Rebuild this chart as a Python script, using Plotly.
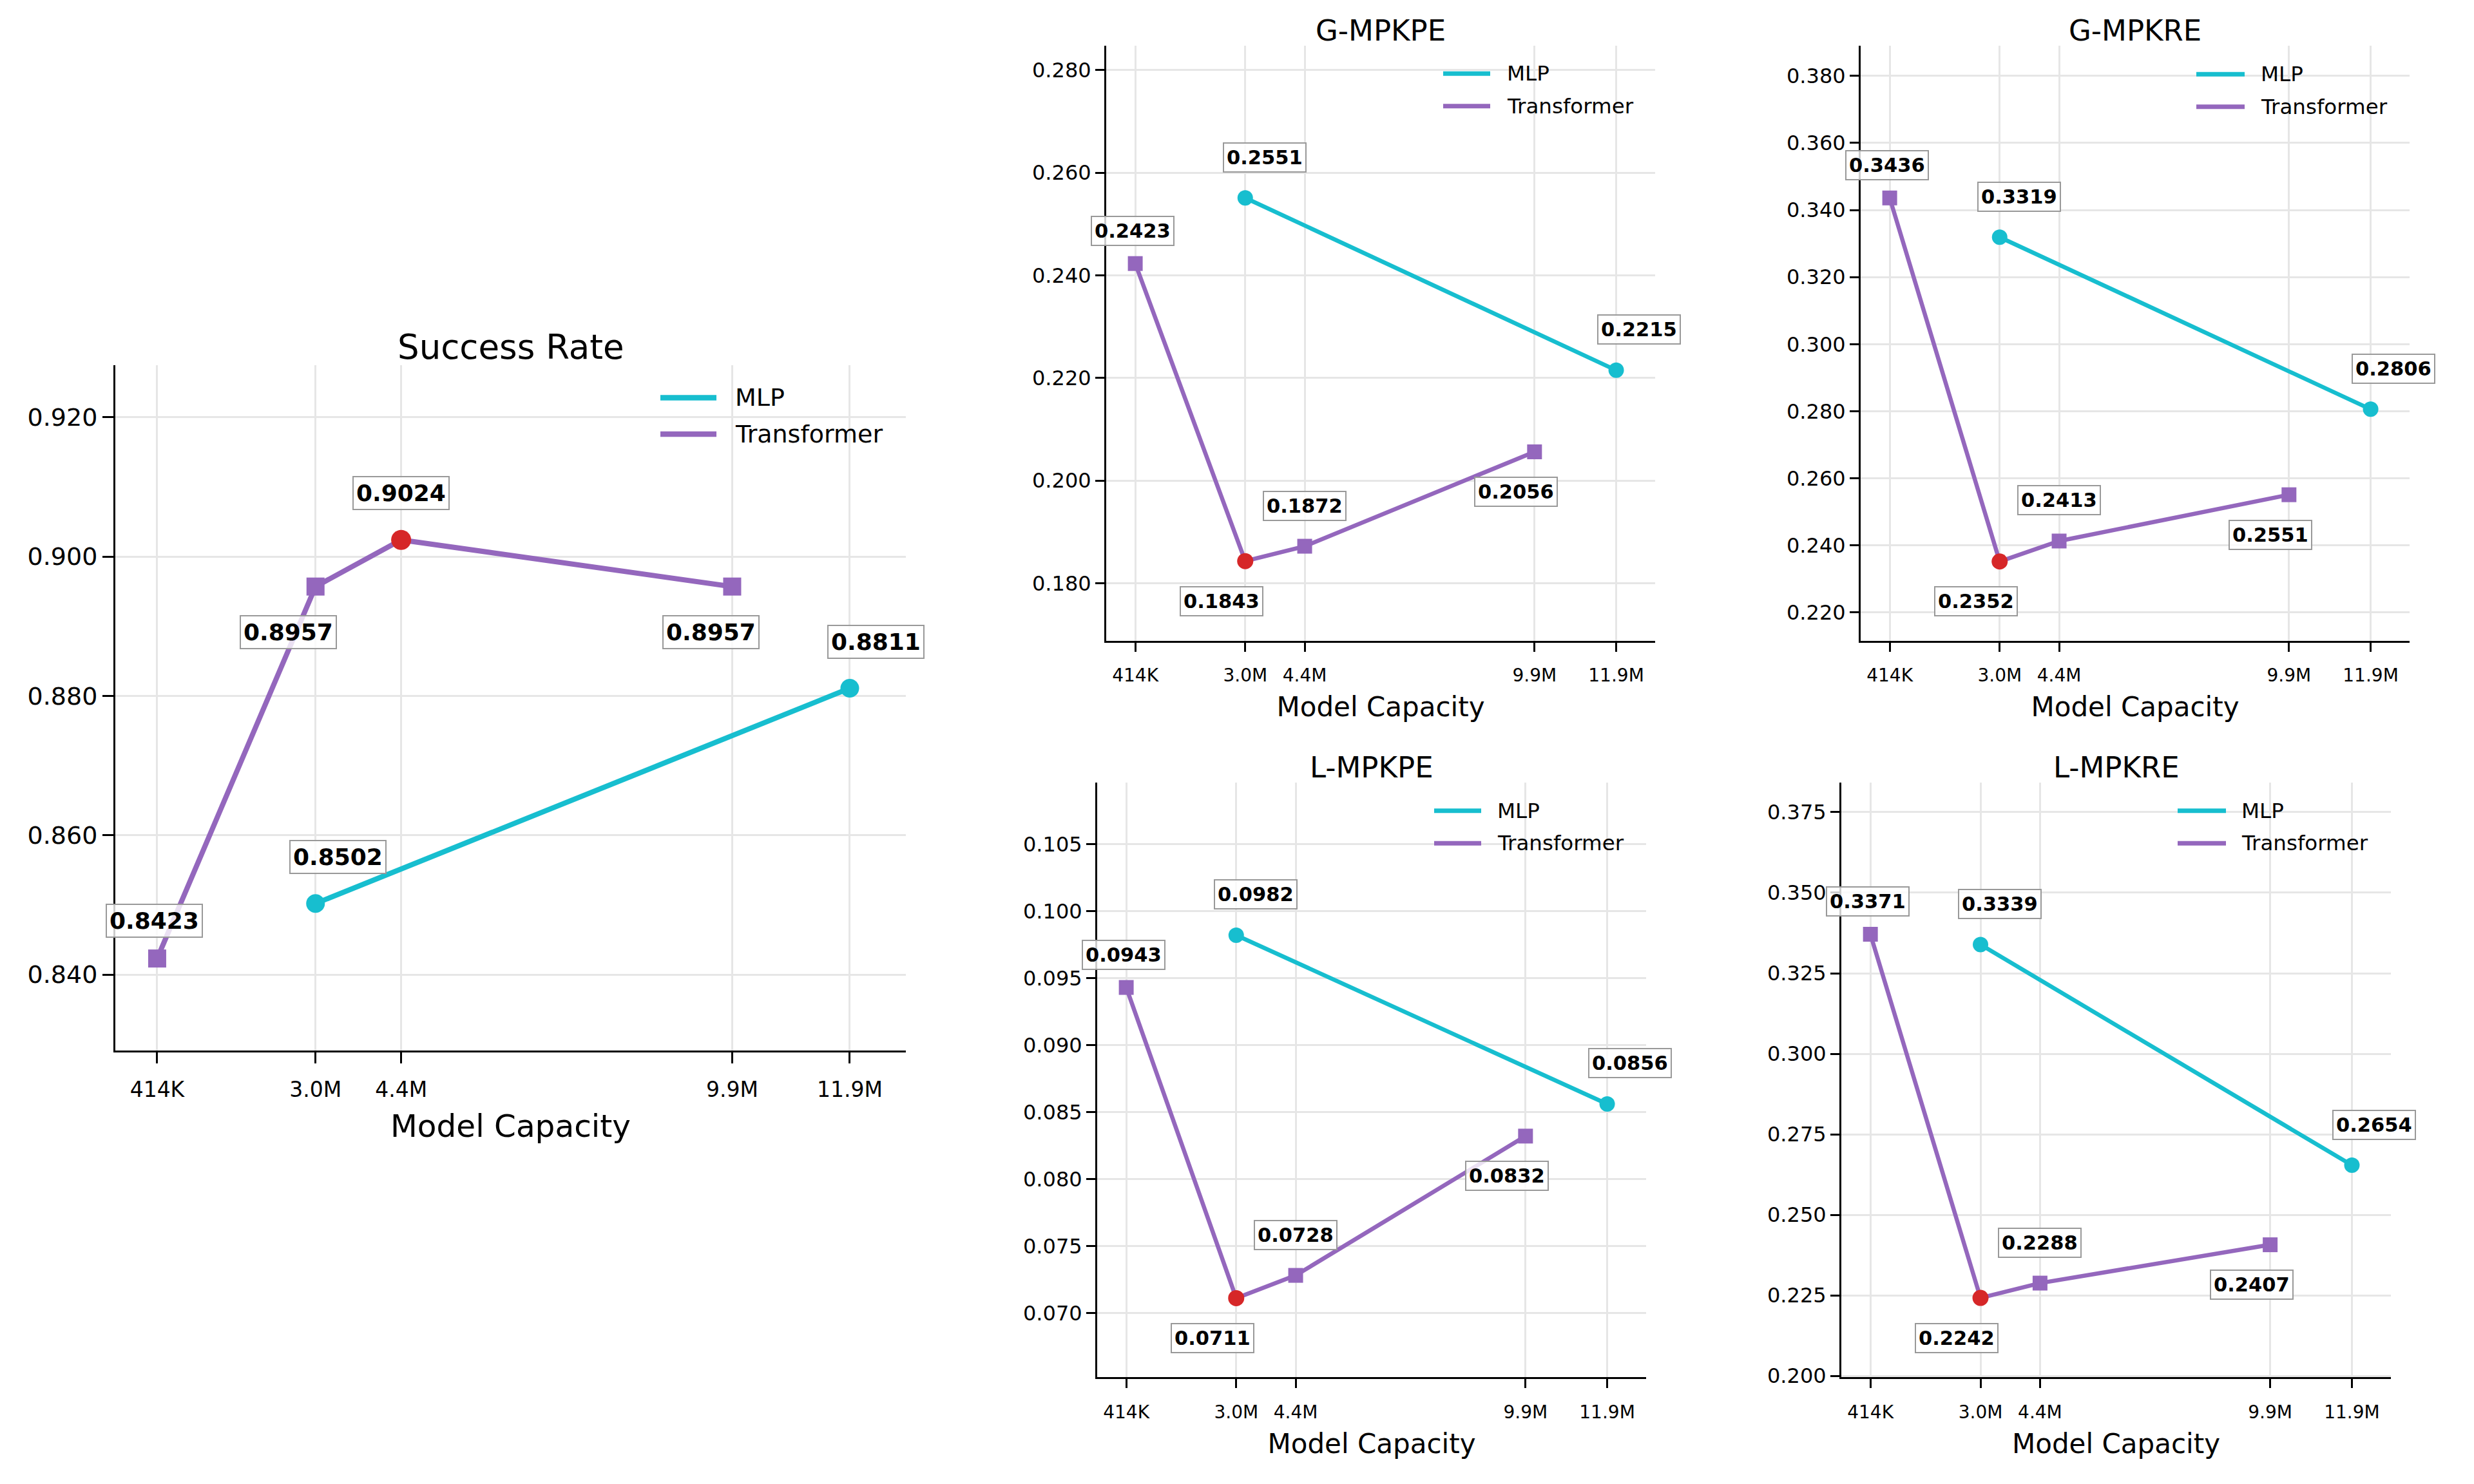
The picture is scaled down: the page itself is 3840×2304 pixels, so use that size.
import plotly.graph_objects as go

# ---------------- data ----------------
PARAM_LABELS = ["414K", "3.0M", "4.4M", "9.9M", "11.9M"]
PARAM_M = [0.414, 3.04, 4.46, 9.95, 11.9]      # model capacity (millions of params)
MLP_IDX = [1, 4]                               # MLP capacities: 3.0M, 11.9M
TR_IDX = [0, 1, 2, 3]                          # Transformer capacities: 414K .. 9.9M

METRICS = ["Success Rate", "G-MPKPE", "G-MPKRE", "L-MPKPE", "L-MPKRE"]
HIGHER_IS_BETTER = [True, False, False, False, False]

SR_MLP = [0.8502, 0.8811]
SR_TR = [0.8423, 0.8957, 0.9024, 0.8957]
GPE_MLP = [0.2551, 0.2215]
GPE_TR = [0.2423, 0.1843, 0.1872, 0.2056]
GRE_MLP = [0.3319, 0.2806]
GRE_TR = [0.3436, 0.2352, 0.2413, 0.2551]
LPE_MLP = [0.0982, 0.0856]
LPE_TR = [0.0943, 0.0711, 0.0728, 0.0832]
LRE_MLP = [0.3339, 0.2654]
LRE_TR = [0.3371, 0.2242, 0.2288, 0.2407]

MLP_VALUES = [SR_MLP, GPE_MLP, GRE_MLP, LPE_MLP, LRE_MLP]
TR_VALUES = [SR_TR, GPE_TR, GRE_TR, LPE_TR, LRE_TR]

# ---------------- style / layout ----------------
W, H = 3840, 2304
C_MLP = "#17becf"
C_TR = "#9467bd"
C_BEST = "#d62728"
GRID = "#e6e6e6"
FONT = "DejaVu Sans"
X_RANGE = [-0.28, 12.83]

# axes boxes in canvas pixels: (left, right, top, bottom), y range, y tick step
PANELS = [
    dict(box=(179, 1406, 571, 1643), yr=(0.8291, 0.9275), dtick=0.02, big=True,
         leg=(1025, 1112, 1139, 622, 57)),
    dict(box=(1717, 2569, 72, 1002), yr=(0.1688, 0.2847), dtick=0.02, big=False,
         leg=(2240, 2313, 2337, 115, 51)),
    dict(box=(2888, 3740, 72, 1002), yr=(0.2116, 0.3889), dtick=0.02, big=False,
         leg=(3409, 3484, 3507, 116, 51)),
    dict(box=(1703, 2555, 1224, 2154), yr=(0.0652, 0.1096), dtick=0.005, big=False,
         leg=(2226, 2299, 2322, 1268, 51)),
    dict(box=(2858, 3711, 1224, 2154), yr=(0.1996, 0.3842), dtick=0.025, big=False,
         leg=(3380, 3455, 3477, 1268, 51)),
]

SIZES = {
    True: dict(ann=36, ytick=38, xtick=33, title=53, atitle=48.5, legend=38,
               circle=29, best=31, square=28, lw=8, ticklen=17, tgap=29, scale=1.15,
               xstand=13, tstand=21),
    False: dict(ann=30.5, ytick=32, xtick=28, title=45, atitle=42, legend=32.5,
                circle=24, best=25, square=23, lw=6.5, ticklen=14, tgap=24, scale=1.0,
                xstand=13, tstand=19),
}

# label offsets (pixels, dx right, dy down) by point index
MLP_OFF = [(30, -63), (35, -63)]
TR_OFF = [(-4, -51), (-37, 62), (0, -63), (-29, 62)]


def px(x):
    return x / W


def py(y):
    return 1 - y / H


fig = go.Figure()
layout = dict(
    width=W, height=H, margin=dict(l=0, r=0, t=0, b=0),
    paper_bgcolor="white", plot_bgcolor="white", showlegend=False,
    font=dict(family=FONT, color="black"),
)
annotations = []
shapes = []

for i, metric in enumerate(METRICS):
    p = PANELS[i]
    s = SIZES[p["big"]]
    k = "" if i == 0 else str(i + 1)
    xr, yr_ = "x" + k, "y" + k
    x0, x1, yt, yb = p["box"]

    mlp_x = [PARAM_M[j] for j in MLP_IDX]
    tr_x = [PARAM_M[j] for j in TR_IDX]
    mlp_y = MLP_VALUES[i]
    tr_y = TR_VALUES[i]

    all_vals = mlp_y + tr_y
    best_val = max(all_vals) if HIGHER_IS_BETTER[i] else min(all_vals)

    def marker_style(vals, base_color, base_symbol, base_size):
        cols, syms, sz = [], [], []
        for v in vals:
            if v == best_val:
                cols.append(C_BEST); syms.append("circle"); sz.append(s["best"])
            else:
                cols.append(base_color); syms.append(base_symbol); sz.append(base_size)
        return cols, syms, sz

    for name, xs, ys, col, sym, msz in [
        ("MLP", mlp_x, mlp_y, C_MLP, "circle", s["circle"]),
        ("Transformer", tr_x, tr_y, C_TR, "square", s["square"]),
    ]:
        fig.add_trace(go.Scatter(
            x=xs, y=ys, mode="lines", name=name, xaxis=xr, yaxis=yr_,
            line=dict(color=col, width=s["lw"]), showlegend=False, hoverinfo="skip"))
        cols, syms, sz = marker_style(ys, col, sym, msz)
        fig.add_trace(go.Scatter(
            x=xs, y=ys, mode="markers", name=name, xaxis=xr, yaxis=yr_,
            marker=dict(color=cols, symbol=syms, size=sz, opacity=1, line=dict(width=0)),
            showlegend=False, cliponaxis=False))

    # value labels
    for xs, ys, offs in [(mlp_x, mlp_y, MLP_OFF), (tr_x, tr_y, TR_OFF)]:
        for (xv, yv, (dx, dy)) in zip(xs, ys, offs):
            annotations.append(dict(
                x=xv, y=yv, xref=xr, yref=yr_, text="<b>%.4f</b>" % yv,
                showarrow=False, xanchor="center", yanchor="middle",
                xshift=dx * s["scale"], yshift=-dy * s["scale"],
                font=dict(family=FONT, size=s["ann"], color="black"),
                bgcolor="rgba(255,255,255,0.8)", bordercolor="#999999",
                borderwidth=2, borderpad=4))

    layout["xaxis" + k] = dict(
        domain=[px(x0), px(x1)], range=X_RANGE, anchor=yr_,
        tickmode="array", tickvals=PARAM_M, ticktext=PARAM_LABELS,
        showline=True, linecolor="black", linewidth=3, mirror=False,
        ticks="outside", ticklen=s["ticklen"], tickwidth=3, tickcolor="black",
        ticklabelstandoff=s["xstand"],
        showgrid=True, gridcolor=GRID, gridwidth=3, zeroline=False,
        tickfont=dict(family=FONT, size=s["xtick"], color="black"),
        title=dict(text="Model Capacity", font=dict(family=FONT, size=s["atitle"], color="black"),
                   standoff=s["tstand"]),
    )
    layout["yaxis" + k] = dict(
        domain=[py(yb), py(yt)], range=list(p["yr"]), anchor=xr,
        tickmode="linear", dtick=p["dtick"], tick0=0, tickformat=".3f",
        showline=True, linecolor="black", linewidth=3, mirror=False,
        ticks="outside", ticklen=s["ticklen"], tickwidth=3, tickcolor="black",
        showgrid=True, gridcolor=GRID, gridwidth=3, zeroline=False,
        tickfont=dict(family=FONT, size=s["ytick"], color="black"),
    )

    # panel title
    annotations.append(dict(
        x=px((x0 + x1) / 2), y=py(yt - s["tgap"]), xref="paper", yref="paper",
        text=metric, showarrow=False, xanchor="center", yanchor="middle",
        font=dict(family=FONT, size=s["title"], color="black")))

    # legend
    lx0, lx1, ltx, ly, lstep = p["leg"]
    for r, (name, col) in enumerate([("MLP", C_MLP), ("Transformer", C_TR)]):
        yy = ly + r * lstep
        shapes.append(dict(type="line", xref="paper", yref="paper",
                           x0=px(lx0), x1=px(lx1), y0=py(yy), y1=py(yy),
                           line=dict(color=col, width=s["lw"] + 0.5)))
        annotations.append(dict(
            x=px(ltx), y=py(yy), xref="paper", yref="paper", text=name,
            showarrow=False, xanchor="left", yanchor="middle",
            font=dict(family=FONT, size=s["legend"], color="black")))

layout["annotations"] = annotations
layout["shapes"] = shapes
fig.update_layout(**layout)
fig.write_html("out.html")
